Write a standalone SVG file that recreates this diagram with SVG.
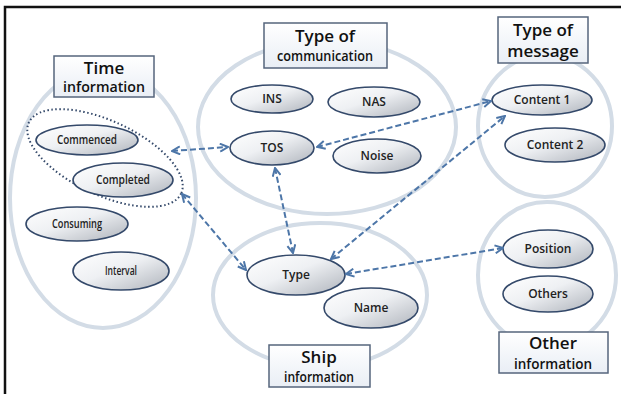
<svg xmlns="http://www.w3.org/2000/svg" width="621" height="394" viewBox="0 0 621 394">
  <defs>
    <linearGradient id="nodeFill" x1="0" y1="0" x2="1" y2="1">
      <stop offset="0" stop-color="#ffffff"/>
      <stop offset="0.45" stop-color="#eef0f3"/>
      <stop offset="1" stop-color="#aeb3bb"/>
    </linearGradient>
    <linearGradient id="boxFill" x1="0" y1="0" x2="0" y2="1">
      <stop offset="0" stop-color="#ffffff"/>
      <stop offset="1" stop-color="#e9eef5"/>
    </linearGradient>
    <marker id="arrow" viewBox="0 0 10 10" refX="9" refY="5" markerWidth="5" markerHeight="5" orient="auto-start-reverse" markerUnits="strokeWidth">
      <path d="M1,1 L9,5 L1,9" fill="none" stroke="#4d76a8" stroke-width="2"/>
    </marker>
  </defs>
  <style>
    .group { fill: none; stroke: #d3dce6; stroke-width: 4; }
    .node { fill: url(#nodeFill); stroke: #34496a; stroke-width: 1.6; }
    .box { fill: url(#boxFill); stroke: #56657c; stroke-width: 1.5; }
    .title { font-family: "Open Sans", "Noto Sans", sans-serif; font-weight: 600; font-size: 17px; fill: #111; text-anchor: middle; }
    .sub { font-family: "Open Sans", "Noto Sans", sans-serif; font-weight: 600; font-size: 13.5px; fill: #111; text-anchor: middle; }
    .label { font-family: "Open Sans", "Noto Sans", sans-serif; font-weight: 600; font-size: 12px; fill: #222; text-anchor: middle; }
    .cond { font-family: "Open Sans", "Noto Sans", sans-serif; font-weight: 600; font-size: 12px; fill: #222; text-anchor: middle; }
    .link { fill: none; stroke: #4d76a8; stroke-width: 2; stroke-dasharray: 6 3; marker-start: url(#arrow); marker-end: url(#arrow); }
  </style>

  <rect width="621" height="394" fill="#ffffff"/>
  <!-- frame: top and left rules -->
  <path d="M5,394 L5,7 L621,7" fill="none" stroke="#111" stroke-width="2.5"/>

  <!-- category outlines -->
  <ellipse class="group" cx="103" cy="198" rx="93" ry="130"/>
  <ellipse class="group" cx="327" cy="127" rx="129" ry="87"/>
  <ellipse class="group" cx="545" cy="126" rx="67" ry="71"/>
  <ellipse class="group" cx="320" cy="295" rx="107" ry="72"/>
  <ellipse class="group" cx="547" cy="275" rx="69" ry="73"/>

  <!-- Time information -->
  <g id="time-information">
    <rect class="box" x="54" y="56" width="100" height="41"/>
    <text class="title" x="104" y="74">Time</text>
    <text class="sub" x="104" y="92" textLength="82" lengthAdjust="spacingAndGlyphs">information</text>
  </g>
  <g id="time-group">
    <ellipse cx="105" cy="158" rx="84" ry="37" transform="rotate(25 105 158)" fill="none" stroke="#34496a" stroke-width="2" stroke-dasharray="1.5 2.5"/>
  </g>
  <g id="commenced">
    <ellipse class="node" cx="87" cy="140" rx="51" ry="15"/>
    <text class="cond" x="87" y="144" textLength="60" lengthAdjust="spacingAndGlyphs">Commenced</text>
  </g>
  <g id="completed">
    <ellipse class="node" cx="123" cy="180" rx="50" ry="17"/>
    <text class="cond" x="123" y="184" textLength="54" lengthAdjust="spacingAndGlyphs">Completed</text>
  </g>
  <g id="consuming">
    <ellipse class="node" cx="77" cy="224" rx="51" ry="17"/>
    <text class="cond" x="77" y="228" textLength="50" lengthAdjust="spacingAndGlyphs">Consuming</text>
  </g>
  <g id="interval">
    <ellipse class="node" cx="121" cy="271" rx="48" ry="19"/>
    <text class="cond" x="121" y="275" textLength="32" lengthAdjust="spacingAndGlyphs">Interval</text>
  </g>

  <!-- Type of communication -->
  <g id="type-of-communication">
    <rect class="box" x="264" y="23" width="123" height="45"/>
    <text class="title" x="325" y="42">Type of</text>
    <text class="sub" x="325" y="61" textLength="96" lengthAdjust="spacingAndGlyphs">communication</text>
  </g>
  <g id="ins">
    <ellipse class="node" cx="272" cy="99" rx="41" ry="14"/>
    <text class="label" x="272" y="103">INS</text>
  </g>
  <g id="nas">
    <ellipse class="node" cx="374" cy="102" rx="46" ry="15"/>
    <text class="label" x="374" y="106">NAS</text>
  </g>
  <g id="tos">
    <ellipse class="node" cx="272" cy="148" rx="42" ry="17"/>
    <text class="label" x="272" y="152">TOS</text>
  </g>
  <g id="noise">
    <ellipse class="node" cx="377" cy="156" rx="44" ry="17"/>
    <text class="label" x="377" y="160">Noise</text>
  </g>

  <!-- Type of message -->
  <g id="type-of-message">
    <rect class="box" x="498" y="17" width="90" height="46"/>
    <text class="title" x="543" y="36">Type of</text>
    <text class="title" x="543" y="57">message</text>
  </g>
  <g id="content-1">
    <ellipse class="node" cx="542" cy="100" rx="50" ry="15"/>
    <text class="label" x="542" y="104">Content 1</text>
  </g>
  <g id="content-2">
    <ellipse class="node" cx="555" cy="145" rx="50" ry="17"/>
    <text class="label" x="555" y="149">Content 2</text>
  </g>

  <!-- Ship information -->
  <g id="ship-information">
    <rect class="box" x="269" y="345" width="101" height="42"/>
    <text class="title" x="319" y="363">Ship</text>
    <text class="sub" x="319" y="382" textLength="70" lengthAdjust="spacingAndGlyphs">information</text>
  </g>
  <g id="type">
    <ellipse class="node" cx="296" cy="275" rx="49" ry="20"/>
    <text class="label" x="296" y="279">Type</text>
  </g>
  <g id="name">
    <ellipse class="node" cx="371" cy="308" rx="47" ry="20"/>
    <text class="label" x="371" y="312">Name</text>
  </g>

  <!-- Other information -->
  <g id="other-information">
    <rect class="box" x="499" y="332" width="109" height="41"/>
    <text class="title" x="553" y="349">Other</text>
    <text class="sub" x="553" y="369" textLength="78" lengthAdjust="spacingAndGlyphs">information</text>
  </g>
  <g id="position">
    <ellipse class="node" cx="548" cy="249" rx="45" ry="19"/>
    <text class="label" x="548" y="253">Position</text>
  </g>
  <g id="others">
    <ellipse class="node" cx="548" cy="294" rx="45" ry="18"/>
    <text class="label" x="548" y="298">Others</text>
  </g>

  <!-- relations -->
  <g id="connectors">
    <line class="link" x1="172" y1="151" x2="228" y2="147"/>
    <line class="link" x1="182" y1="194" x2="246" y2="270"/>
    <line class="link" x1="275" y1="168" x2="293" y2="253"/>
    <line class="link" x1="317" y1="147" x2="491" y2="101"/>
    <line class="link" x1="331" y1="259" x2="505" y2="116"/>
    <line class="link" x1="346" y1="274" x2="503" y2="248"/>
  </g>
</svg>
